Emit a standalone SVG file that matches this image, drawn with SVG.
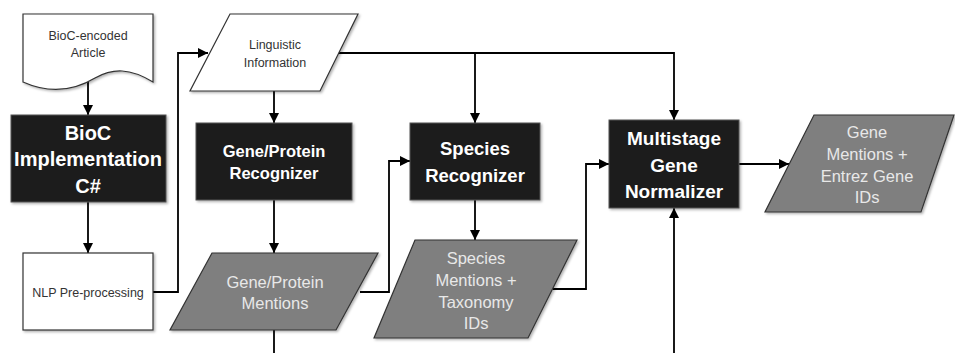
<svg xmlns="http://www.w3.org/2000/svg" width="955" height="353" viewBox="0 0 955 353">
<defs>
<marker id="ah" markerWidth="10" markerHeight="10" refX="10" refY="5" orient="auto" markerUnits="userSpaceOnUse">
<path d="M0,0 L10,5 L0,10 Z" fill="#000"/>
</marker>
<filter id="sh" x="-10%" y="-10%" width="130%" height="130%">
<feDropShadow dx="1.5" dy="1.5" stdDeviation="1" flood-color="#000" flood-opacity="0.3"/>
</filter>
</defs>
<style>
.dark{fill:#1f1f1f;stroke:#555;stroke-width:1;filter:url(#sh)}
.white{fill:#fff;stroke:#333;stroke-width:1.2;filter:url(#sh)}
.gray{fill:#7f7f7f;stroke:#333;stroke-width:1.2;filter:url(#sh)}
.tb{font-family:"Liberation Sans",Arial,sans-serif;font-weight:bold;fill:#fff;text-anchor:middle}
.tg{font-family:"Liberation Sans",Arial,sans-serif;fill:#e8e8e8;text-anchor:middle;font-size:16.5px}
.ts{font-family:"Liberation Sans",Arial,sans-serif;fill:#333;text-anchor:middle;font-size:12.5px}
.c{fill:none;stroke:#000;stroke-width:1.8}
</style>
<rect width="955" height="353" fill="#fff"/>

<g id="connectors">
<path class="c" d="M88,82 V115" marker-end="url(#ah)"/>
<path class="c" d="M88,202 V253" marker-end="url(#ah)"/>
<path class="c" d="M153,292 H178 V53 H208" marker-end="url(#ah)"/>
<path class="c" d="M338,53 H674 V120" marker-end="url(#ah)"/>
<path class="c" d="M475,53 V123" marker-end="url(#ah)"/>
<path class="c" d="M274,91 V123" marker-end="url(#ah)"/>
<path class="c" d="M274,200 V253" marker-end="url(#ah)"/>
<path class="c" d="M274,330 V353"/>
<path class="c" d="M360,292 H389 V161 H410" marker-end="url(#ah)"/>
<path class="c" d="M475,200 V240" marker-end="url(#ah)"/>
<path class="c" d="M553,289 H586 V164 H609" marker-end="url(#ah)"/>
<path class="c" d="M739,164 H789" marker-end="url(#ah)"/>
<path class="c" d="M674,353 V208" marker-end="url(#ah)"/>
</g>

<g id="bioc-article">
<path class="white" d="M23,14 H153 V82 C130,68 113,68 95,78 C75,90 50,94 23,82 Z"/>
<text class="ts" x="88" y="40">BioC-encoded</text>
<text class="ts" x="88" y="57">Article</text>
</g>

<g id="bioc-impl">
<rect class="dark" x="11" y="115" width="155" height="87"/>
<text class="tb" x="88" y="140" font-size="20">BioC</text>
<text class="tb" x="88" y="166" font-size="20">Implementation</text>
<text class="tb" x="88" y="193" font-size="20">C#</text>
</g>

<g id="nlp">
<rect class="white" x="23" y="253" width="130" height="77"/>
<text class="ts" x="88" y="297" font-size="12">NLP Pre-processing</text>
</g>

<g id="linguistic">
<path class="white" d="M230,14 H358 L320,91 H190 Z"/>
<text class="ts" x="275" y="49">Linguistic</text>
<text class="ts" x="275" y="67">Information</text>
</g>

<g id="gp-recognizer">
<rect class="dark" x="196" y="123" width="156" height="77"/>
<text class="tb" x="274" y="157" font-size="16.5">Gene/Protein</text>
<text class="tb" x="274" y="179" font-size="16.5">Recognizer</text>
</g>

<g id="species-recognizer">
<rect class="dark" x="410" y="123" width="130" height="77"/>
<text class="tb" x="475" y="155" font-size="18.5">Species</text>
<text class="tb" x="475" y="182" font-size="18.5">Recognizer</text>
</g>

<g id="gp-mentions">
<path class="gray" d="M212,253 H378 L336,330 H170 Z"/>
<text class="tg" x="275" y="288">Gene/Protein</text>
<text class="tg" x="275" y="309">Mentions</text>
</g>

<g id="species-mentions">
<path class="gray" d="M415,240 H577 L528,338 H374 Z"/>
<text class="tg" x="476" y="264">Species</text>
<text class="tg" x="476" y="286">Mentions +</text>
<text class="tg" x="476" y="308">Taxonomy</text>
<text class="tg" x="476" y="329">IDs</text>
</g>

<g id="normalizer">
<rect class="dark" x="609" y="120" width="130" height="88"/>
<text class="tb" x="674" y="145" font-size="19">Multistage</text>
<text class="tb" x="674" y="172" font-size="19">Gene</text>
<text class="tb" x="674" y="198" font-size="19">Normalizer</text>
</g>

<g id="gene-mentions">
<path class="gray" d="M814,115 H954 L921,212 H765 Z"/>
<text class="tg" x="867" y="138">Gene</text>
<text class="tg" x="867" y="160">Mentions +</text>
<text class="tg" x="867" y="182">Entrez Gene</text>
<text class="tg" x="867" y="203">IDs</text>
</g>
</svg>
